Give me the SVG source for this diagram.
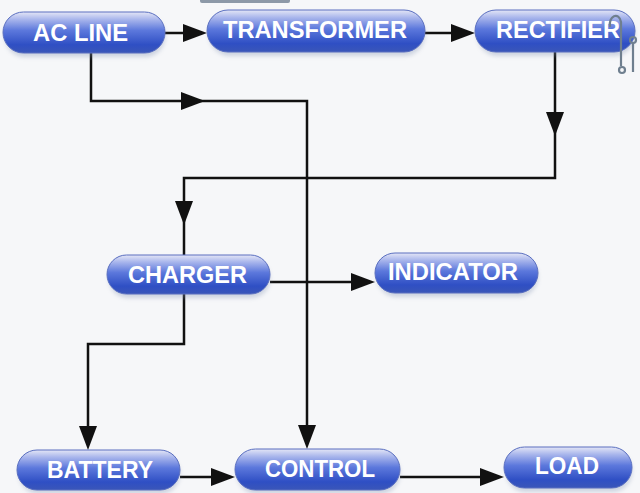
<svg xmlns="http://www.w3.org/2000/svg" xmlns:xlink="http://www.w3.org/1999/xlink" width="640" height="493" viewBox="0 0 640 493">
  <style>
    .box { fill: url(#pill); stroke: #5a6fc0; stroke-width: 1; }
    .shadow { fill: #8090b0; opacity: 0.35; filter: url(#blur); }
    .hl { fill: url(#hl); }
    .lbl { font-family: "Liberation Sans", Arial, sans-serif; font-weight: bold; font-size: 23px; fill: #ffffff; }
    .wire { fill: none; stroke: #111111; stroke-width: 2.5; stroke-linejoin: miter; }
    .head { fill: #111111; }
    .icon { fill: none; stroke: #6f7f8f; stroke-width: 2.2; }
  </style>
  <defs>
    <linearGradient id="pill" x1="0" y1="0" x2="0" y2="1">
      <stop offset="0" stop-color="#e4e6f6"/>
      <stop offset="0.18" stop-color="#a9b6ec"/>
      <stop offset="0.45" stop-color="#5c78dc"/>
      <stop offset="0.8" stop-color="#2f4fc4"/>
      <stop offset="1" stop-color="#3a56b8"/>
    </linearGradient>
    <linearGradient id="hl" x1="0" y1="0" x2="0" y2="1">
      <stop offset="0" stop-color="#ffffff" stop-opacity="0.55"/>
      <stop offset="1" stop-color="#ffffff" stop-opacity="0"/>
    </linearGradient>
    <filter id="blur" x="-10%" y="-30%" width="120%" height="160%">
      <feGaussianBlur stdDeviation="2"/>
    </filter>
    <path id="ah" d="M0,0 L-24,-9 L-24,9 Z"/>
  </defs>

  <rect width="640" height="493" fill="#f6f7f9"/>
  <rect x="200" y="-4" width="90" height="7" rx="2" fill="#8d99a8"/>

  <g id="connectors">
    <path class="wire" d="M165,33 H190"/>
    <path class="wire" d="M425,33 H455"/>
    <path class="wire" d="M91,53 V101 H307 V430"/>
    <path class="wire" d="M555,52 V178 H184 V256"/>
    <path class="wire" d="M270,282 H355"/>
    <path class="wire" d="M184,293 V344 H88 V432"/>
    <path class="wire" d="M180,477 H215"/>
    <path class="wire" d="M400,477 H485"/>
    <use xlink:href="#ah" class="head" transform="translate(207,33)"/>
    <use xlink:href="#ah" class="head" transform="translate(475,33)"/>
    <use xlink:href="#ah" class="head" transform="translate(205,101)"/>
    <use xlink:href="#ah" class="head" transform="translate(307,449) rotate(90)"/>
    <use xlink:href="#ah" class="head" transform="translate(555,136) rotate(90)"/>
    <use xlink:href="#ah" class="head" transform="translate(184,225) rotate(90)"/>
    <use xlink:href="#ah" class="head" transform="translate(375,282)"/>
    <use xlink:href="#ah" class="head" transform="translate(88,450) rotate(90)"/>
    <use xlink:href="#ah" class="head" transform="translate(235,477)"/>
    <use xlink:href="#ah" class="head" transform="translate(504,477)"/>
  </g>

  <g id="ac-line">
    <rect class="shadow" x="5" y="16" width="160" height="41" rx="20"/>
    <rect class="box" x="3" y="12" width="162" height="41" rx="20.5"/>
    <text class="lbl" x="33" y="41" textLength="95" lengthAdjust="spacingAndGlyphs">AC LINE</text>
  </g>
  <g id="transformer">
    <rect class="shadow" x="209" y="14" width="216" height="42" rx="21"/>
    <rect class="box" x="207" y="10" width="218" height="42" rx="21"/>
    <text class="lbl" x="223" y="38" textLength="184" lengthAdjust="spacingAndGlyphs">TRANSFORMER</text>
  </g>
  <g id="rectifier">
    <rect class="shadow" x="477" y="14" width="158" height="42" rx="21"/>
    <rect class="box" x="475" y="10" width="160" height="42" rx="21"/>
    <text class="lbl" x="496" y="38" textLength="124" lengthAdjust="spacingAndGlyphs">RECTIFIER</text>
  </g>
  <g id="charger">
    <rect class="shadow" x="109" y="259" width="161" height="39" rx="19"/>
    <rect class="box" x="107" y="255" width="163" height="39" rx="19.5"/>
    <text class="lbl" x="128" y="283" textLength="119" lengthAdjust="spacingAndGlyphs">CHARGER</text>
  </g>
  <g id="indicator">
    <rect class="shadow" x="377" y="257" width="161" height="40" rx="20"/>
    <rect class="box" x="375" y="253" width="163" height="40" rx="20"/>
    <text class="lbl" x="388" y="280" textLength="130" lengthAdjust="spacingAndGlyphs">INDICATOR</text>
  </g>
  <g id="battery">
    <rect class="shadow" x="19" y="454" width="161" height="40" rx="20"/>
    <rect class="box" x="17" y="450" width="163" height="40" rx="20"/>
    <text class="lbl" x="47" y="478" textLength="106" lengthAdjust="spacingAndGlyphs">BATTERY</text>
  </g>
  <g id="control">
    <rect class="shadow" x="237" y="453" width="163" height="41" rx="20"/>
    <rect class="box" x="235" y="449" width="165" height="41" rx="20.5"/>
    <text class="lbl" x="265" y="477" textLength="110" lengthAdjust="spacingAndGlyphs">CONTROL</text>
  </g>
  <g id="load">
    <rect class="shadow" x="506" y="451" width="126" height="41" rx="20"/>
    <rect class="box" x="504" y="447" width="128" height="41" rx="20.5"/>
    <text class="lbl" x="535" y="474" textLength="64" lengthAdjust="spacingAndGlyphs">LOAD</text>
  </g>

  <g id="corner-mark">
    <path class="icon" d="M610,27 C608,16 619,11 621,22 V66"/>
    <circle class="icon" cx="622" cy="70" r="3"/>
    <circle class="icon" cx="633" cy="40" r="3"/>
    <path class="icon" d="M633,43 V72"/>
  </g>
</svg>
